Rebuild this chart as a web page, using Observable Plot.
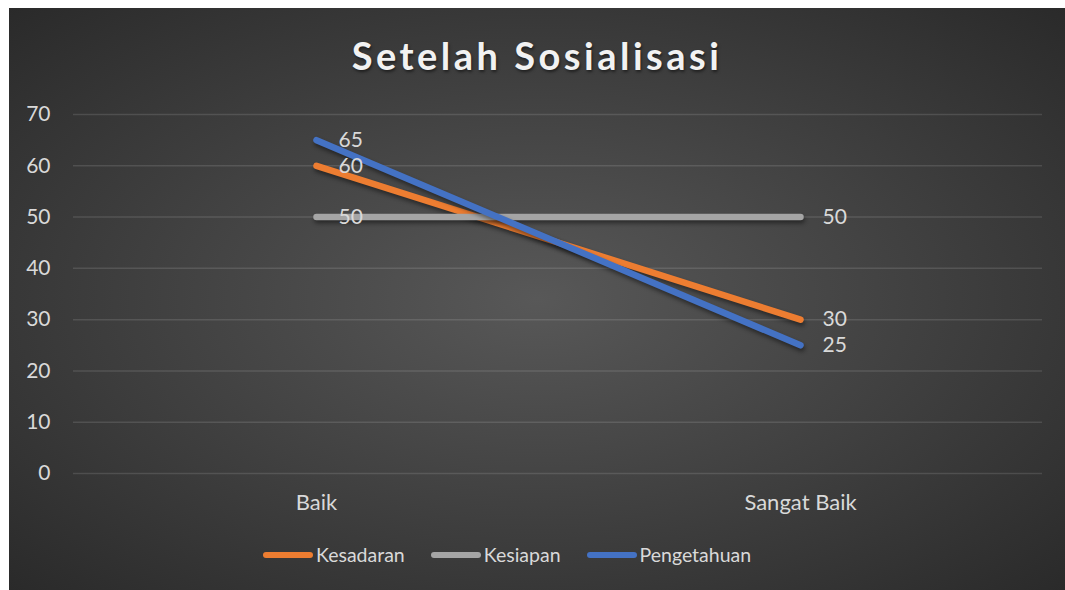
<!DOCTYPE html>
<html>
<head>
<meta charset="utf-8">
<script src="https://cdn.jsdelivr.net/npm/d3@7"></script>
<script src="https://cdn.jsdelivr.net/npm/@observablehq/plot@0.6"></script>
<style>
  html, body { margin: 0; padding: 0; background: #ffffff; width: 1065px; height: 590px; overflow: hidden; }
  #card {
    position: absolute; left: 9px; top: 8px; width: 1056px; height: 582px;
    background: radial-gradient(ellipse farthest-corner at 50% 50%, #585858 0%, #2a2a2a 100%);
    font-family: Lato, "Open Sans", sans-serif;
  }
  #title {
    position: absolute; left: 0; width: 1056px; top: 24px; text-align: center;
    font: bold 38px Lato, sans-serif; letter-spacing: 3.5px; color: #f2f2f2;
    line-height: 46px;
    text-shadow: 1px 2px 3px rgba(0,0,0,0.5);
  }
  #chart { position: absolute; left: 0; top: 0; }
  #chart svg { background: transparent; }
  #chart g[aria-label="line"] path { filter: drop-shadow(1px 3px 2px rgba(0,0,0,0.45)); }
  #legend {
    position: absolute; left: 254px; top: 535px; display: flex; align-items: center;
    font: 19.5px Lato, sans-serif; color: #d9d9d9;
  }
  .item { display: flex; align-items: center; margin-right: 26px; }
  .sw { width: 50px; height: 6px; border-radius: 3px; margin-right: 3px; }
</style>
</head>
<body>
<div id="card">
  <div id="title">Setelah Sosialisasi</div>
  <div id="chart"></div>
  <div id="legend"></div>
</div>
<script>
const categories = ["Baik", "Sangat Baik"];
const seriesNames = ["Kesadaran", "Kesiapan", "Pengetahuan"];
const kesadaran = [60, 30];
const kesiapan = [50, 50];
const pengetahuan = [65, 25];
const yTicks = [0, 10, 20, 30, 40, 50, 60, 70];
const colors = ["#ED7D31", "#A5A5A5", "#4472C4"];

const seriesValues = [kesadaran, kesiapan, pengetahuan];
const rows = [];
seriesNames.forEach((s, i) => {
  categories.forEach((c, j) => rows.push({series: s, cat: c, value: seriesValues[i][j]}));
});

const plot = Plot.plot({
  width: 1056,
  height: 520,
  marginTop: 106,
  marginBottom: 55,
  marginLeft: 64,
  marginRight: 23,
  style: {background: "transparent", color: "#d9d9d9", fontFamily: "Lato, sans-serif", fontSize: "21px"},
  x: {type: "point", domain: categories, padding: 0.5, label: null},
  y: {domain: [0, 70], ticks: yTicks, label: null},
  color: {domain: seriesNames, range: colors},
  marks: [
    Plot.ruleY(yTicks, {stroke: "#ffffff", strokeOpacity: 0.12, strokeWidth: 1.5}),
    Plot.axisY(yTicks, {tickSize: 0, tickPadding: 23, fontSize: 21, fill: "#d9d9d9", label: null}),
    Plot.axisX({tickSize: 0, tickPadding: 21, fontSize: 22, fill: "#d9d9d9", label: null}),
    Plot.line(rows, {x: "cat", y: "value", z: "series", stroke: "series", strokeWidth: 6.5, strokeLinecap: "round"}),
    Plot.text(rows, {x: "cat", y: "value", text: d => String(d.value), dx: 22, textAnchor: "start", fill: "#d9d9d9", fontSize: 21})
  ]
});
document.getElementById("chart").appendChild(plot);

const legend = document.getElementById("legend");
seriesNames.forEach((s, i) => {
  const it = document.createElement("div");
  it.className = "item";
  const sw = document.createElement("div");
  sw.className = "sw";
  sw.style.background = colors[i];
  const tx = document.createElement("span");
  tx.textContent = s;
  it.appendChild(sw); it.appendChild(tx);
  legend.appendChild(it);
});
</script>
</body>
</html>
